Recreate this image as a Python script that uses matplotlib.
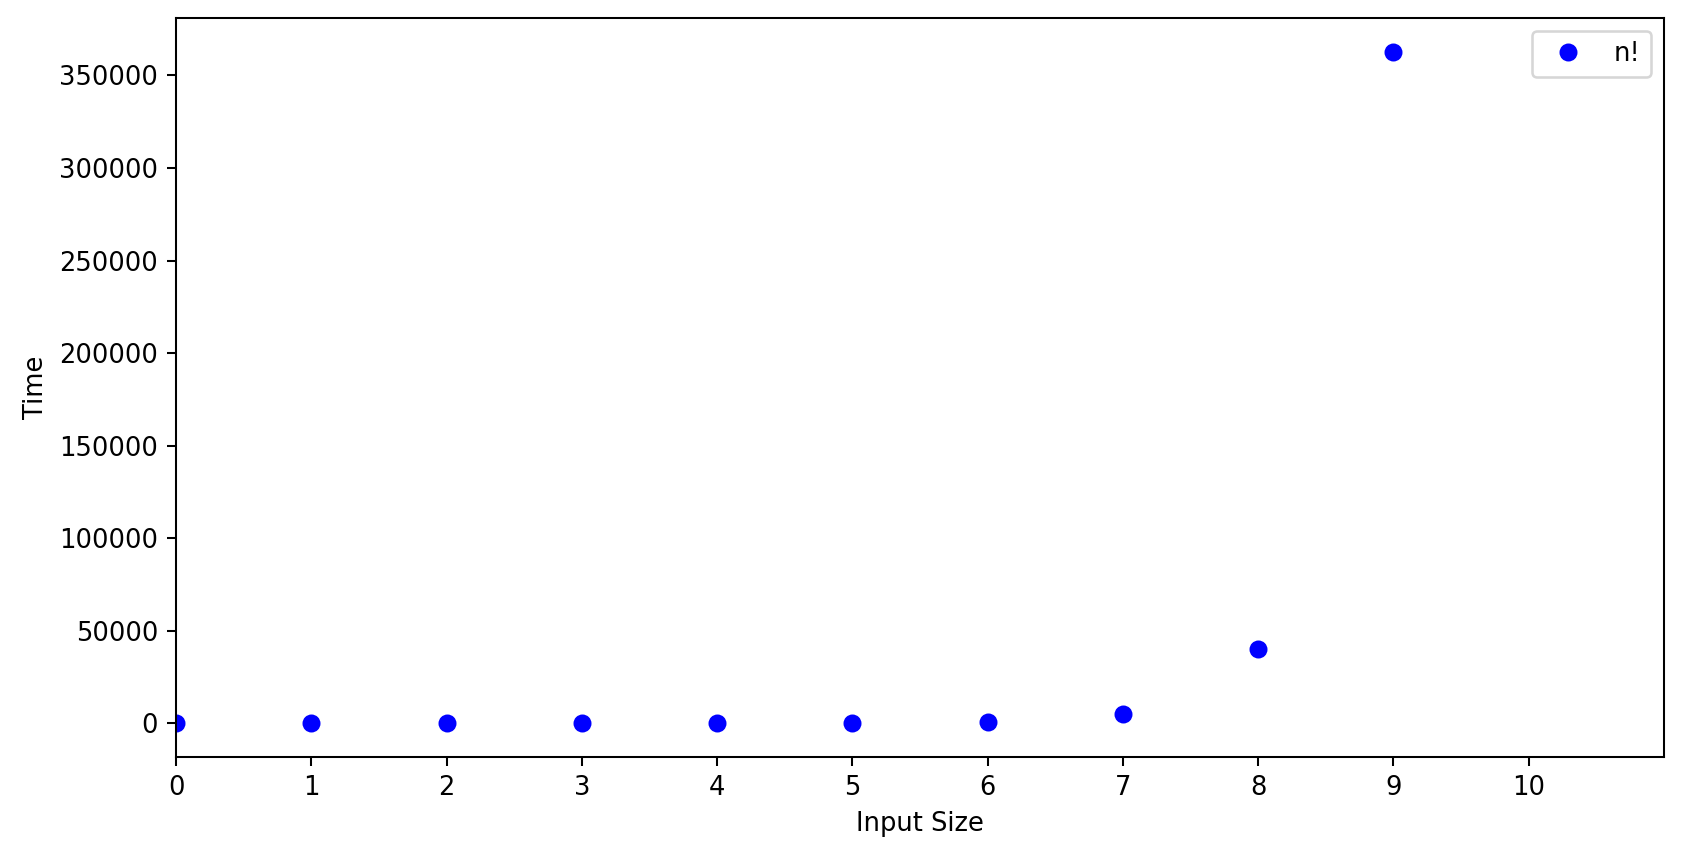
import numpy as np
import matplotlib
matplotlib.use("Agg")
import matplotlib.pyplot as plt

input_size = [0, 1, 2, 3, 4, 5, 6, 7, 8, 9]
times = [1, 1, 2, 6, 24, 120, 720, 5040, 40320, 362880]
xticks = [0, 1, 2, 3, 4, 5, 6, 7, 8, 9, 10]

fig = plt.figure(figsize=(1683 / 185, 858 / 185), dpi=185)
ax = fig.add_axes([0.1046, 0.118, 0.8841, 0.861])
ax.plot(input_size, times, 'bo', label='n!')
ax.set_xlim(0, 11)
ax.set_xticks(xticks)
ax.set_xlabel('Input Size')
ax.set_ylabel('Time')
ax.legend(loc='upper right')
fig.savefig('out.png', dpi=185)
